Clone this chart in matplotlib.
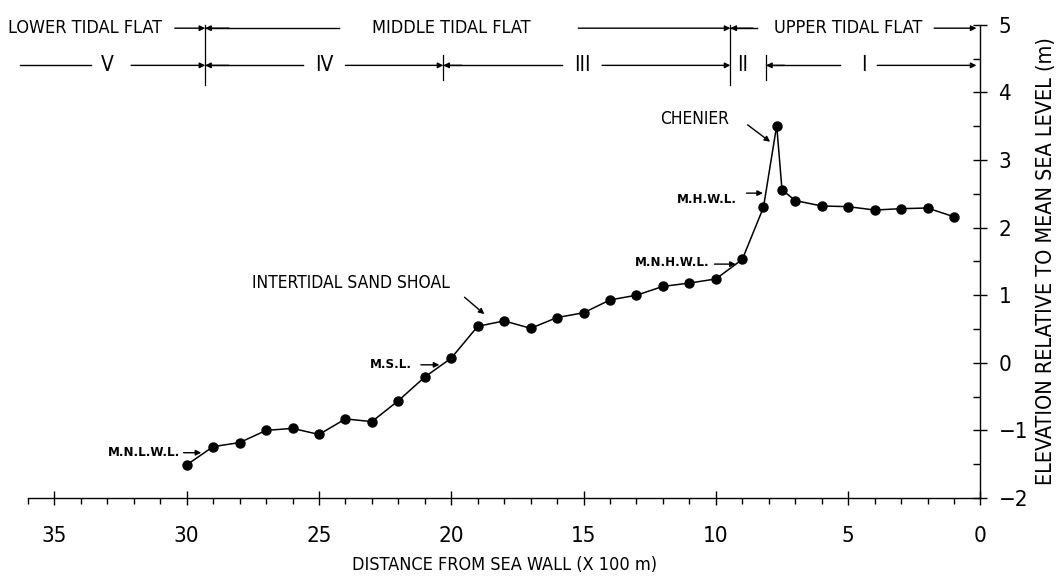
import matplotlib
matplotlib.use("Agg")
import matplotlib.pyplot as plt
from matplotlib.ticker import MultipleLocator

plt.rcParams['font.family'] = ['DejaVu Sans']
plt.rcParams['font.stretch'] = 'condensed'

# profile across the tidal flat
distance = [30, 29, 28, 27, 26, 25, 24, 23, 22, 21, 20, 19, 18, 17, 16, 15,
            14, 13, 12, 11, 10, 9, 8.2, 7.7, 7.5, 7, 6, 5, 4, 3, 2, 1]
elevation = [-1.51, -1.24, -1.18, -1.00, -0.97, -1.06, -0.83, -0.87, -0.56,
             -0.21, 0.07, 0.54, 0.62, 0.51, 0.67, 0.74, 0.93, 1.00, 1.13,
             1.18, 1.24, 1.53, 2.30, 3.51, 2.56, 2.40, 2.32, 2.31, 2.26,
             2.28, 2.29, 2.16]

x_ticks = [35, 30, 25, 20, 15, 10, 5, 0]
y_ticks = [-2, -1, 0, 1, 2, 3, 4, 5]

flat_names = ["LOWER TIDAL FLAT", "MIDDLE TIDAL FLAT", "UPPER TIDAL FLAT"]
zone_names = ["V", "IV", "III", "II", "I"]

fig = plt.figure(figsize=(10.59, 5.85), dpi=100)
ax = fig.add_axes([0.0264, 0.1487, 0.8994, 0.8089])

ax.plot(distance, elevation, color="black", lw=1.1, marker="o",
        markersize=6.5, markerfacecolor="black", markeredgecolor="black")

ax.set_xlim(36, 0)
ax.set_ylim(-2, 5)
ax.spines["left"].set_visible(False)
ax.spines["top"].set_visible(False)
ax.spines["right"].set_linewidth(1.0)
ax.spines["bottom"].set_linewidth(1.0)

ax.yaxis.tick_right()
ax.yaxis.set_label_position("right")
ax.set_xticks(x_ticks)
ax.set_yticks(y_ticks)
ax.set_yticklabels([str(v).replace("-", "\u2212") for v in y_ticks])
ax.xaxis.set_minor_locator(MultipleLocator(1))
ax.yaxis.set_minor_locator(MultipleLocator(0.5))
ax.tick_params(axis="x", which="major", direction="inout", length=10,
               width=1, labelsize=16, pad=15)
ax.tick_params(axis="x", which="minor", direction="out", length=4, width=1)
ax.tick_params(axis="y", which="major", direction="inout", length=10,
               width=1, labelsize=16, pad=8)
ax.tick_params(axis="y", which="minor", direction="in", length=5, width=1)

ax.set_xlabel("DISTANCE FROM SEA WALL (X 100 m)", fontsize=13, labelpad=7)
ax.set_ylabel("ELEVATION RELATIVE TO MEAN SEA LEVEL (m)", fontsize=15.5,
              labelpad=6)

# point labels
small = dict(fontsize=9.5, fontweight="bold", va="center", ha="right")
arrow = dict(arrowstyle="-|>", color="black", lw=1.0, mutation_scale=8,
             shrinkA=0, shrinkB=0)


def pointer(text, tx, ty, x0, y0, x1, y1, **kw):
    ax.text(tx, ty, text, **kw)
    ax.annotate("", xy=(x1, y1), xytext=(x0, y0), arrowprops=arrow)


pointer("INTERTIDAL SAND SHOAL", 23.8, 1.18, 19.5, 0.97, 18.75, 0.72,
        fontsize=12.5, ha="center", va="center")
pointer("M.S.L.", 21.5, -0.03, 21.15, -0.03, 20.45, -0.03, **small)
pointer("M.N.L.W.L.", 30.25, -1.32, 30.12, -1.33, 29.45, -1.33, **small)
pointer("CHENIER", 10.8, 3.6, 8.8, 3.52, 7.95, 3.27,
        fontsize=12.5, ha="center", va="center")
pointer("M.H.W.L.", 9.22, 2.41, 8.84, 2.51, 8.22, 2.51, **small)
pointer("M.N.H.W.L.", 10.25, 1.48, 10.05, 1.46, 9.25, 1.46, **small)

# zone bar along the top
row1, row2 = 4.95, 4.4
head = dict(arrowstyle="-|>", color="black", lw=1.0, mutation_scale=8,
            shrinkA=0, shrinkB=0)


def seg(x0, x1, y, tip=False):
    if tip:
        ax.annotate("", xy=(x1, y), xytext=(x0, y), arrowprops=head,
                    annotation_clip=False)
    else:
        ax.plot([x0, x1], [y, y], color="black", lw=1.0, clip_on=False)


top = dict(fontsize=13, va="center", ha="center", clip_on=False)
ax.text(36.75, row1, flat_names[0], fontsize=13, va="center", ha="left")
seg(30.45, 29.3, row1, True)
seg(29.3, 24.25, row1)
seg(28.4, 29.3, row1, True)
ax.text(20.0, row1, flat_names[1], **top)
seg(15.2, 9.45, row1, True)
seg(9.45, 8.45, row1)
seg(8.6, 9.45, row1, True)
ax.text(5.0, row1, flat_names[2], **top)
seg(1.75, 0.15, row1, True)

seg(36.3, 33.6, row2)
ax.text(33.0, row2, zone_names[0], fontsize=15, va="center", ha="center")
seg(32.1, 29.3, row2, True)
seg(29.3, 25.6, row2)
seg(28.4, 29.3, row2, True)
ax.text(24.8, row2, zone_names[1], fontsize=15, va="center", ha="center")
seg(24.0, 20.3, row2, True)
seg(20.3, 15.8, row2)
seg(19.6, 20.3, row2, True)
ax.text(15.05, row2, zone_names[2], fontsize=15, va="center", ha="center")
seg(14.3, 9.45, row2, True)
ax.text(9.0, row2, zone_names[3], fontsize=15, va="center", ha="center")
seg(8.1, 5.3, row2)
seg(7.4, 8.1, row2, True)
ax.text(4.4, row2, zone_names[4], fontsize=15, va="center", ha="center")
seg(3.9, 0.15, row2, True)

for xd in (29.3, 9.45):
    ax.plot([xd, xd], [4.11, 5.0], color="black", lw=0.9, clip_on=False)
for xd in (20.3, 8.1):
    ax.plot([xd, xd], [4.18, 4.55], color="black", lw=0.9, clip_on=False)

fig.savefig("out.png", dpi=100)
